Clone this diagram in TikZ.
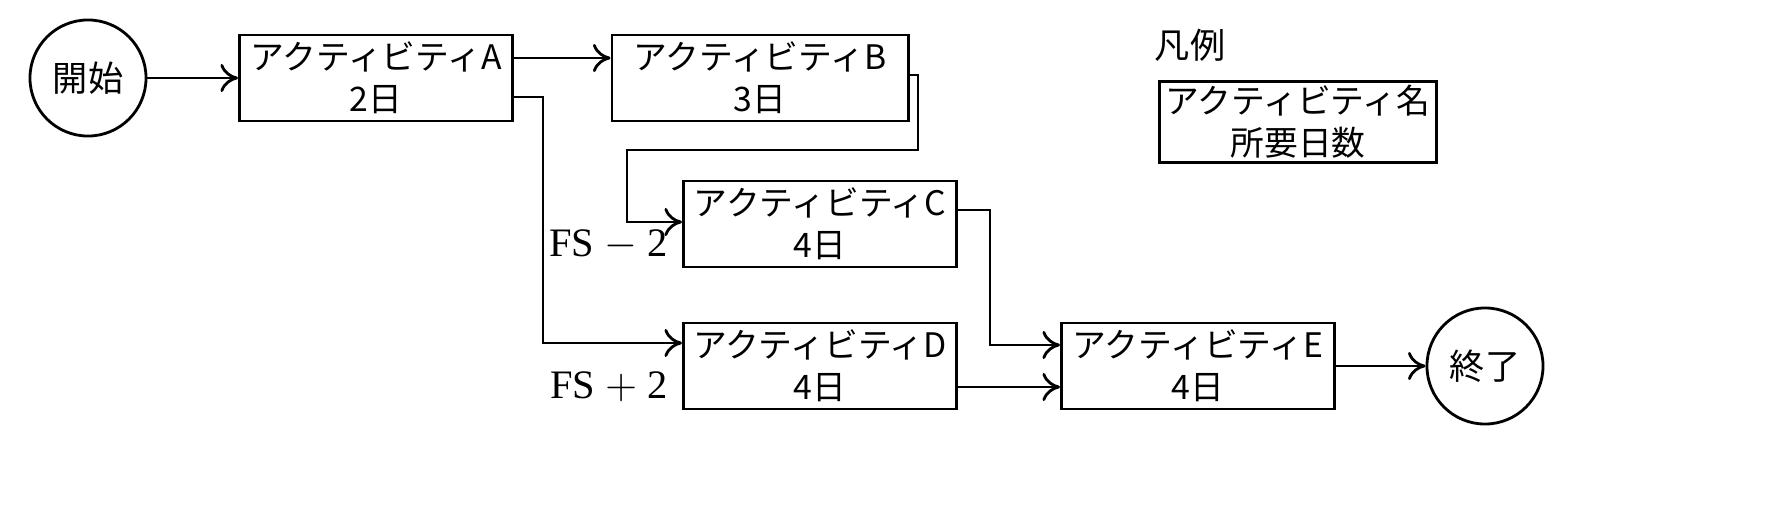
\documentclass[tikz,border=0pt]{standalone}
\usepackage{fontspec}
\setmainfont{Liberation Serif}
\newfontfamily\jp{Noto Sans CJK JP}
\usepackage{tikz}
\usetikzlibrary{positioning,arrows.meta}
\begin{document}
\begin{tikzpicture}[x=0.01cm,y=-0.01cm,
  act/.style={draw,thick,minimum width=2.73cm,minimum height=0.86cm,inner sep=0pt,align=center,font=\jp\fontsize{9.6}{12}\selectfont},
  ev/.style={draw,thick,circle,minimum size=1.16cm,inner sep=0pt,font=\jp\fontsize{10}{12}\selectfont},
  link/.style={thick,-{To[length=5pt,width=8pt]}}]
\useasboundingbox (0,0) rectangle (1772,512);
\node[ev] (Start) at (88,78) {開始};
\node[act] (ActA) at (376,78) {アクティビティA\\2日};
\node[act,minimum width=2.96cm] (ActB) at (760,78) {アクティビティB\\3日};
\node[act] (ActC) at (820,224) {アクティビティC\\4日};
\node[act] (ActD) at (820,366) {アクティビティD\\4日};
\node[act] (ActE) at (1198,366) {アクティビティE\\4日};
\node[ev] (End) at (1485,366) {終了};
\node[font=\jp\fontsize{10}{12}\selectfont] (LegT) at (1190,45) {凡例};
\node[act,minimum width=2.77cm,minimum height=0.81cm] (Leg) at (1298,122) {アクティビティ名\\所要日数};
\node[font=\fontsize{11.5}{14}\selectfont,anchor=east] (LblC) at (680,245) {FS $-$ 2};
\node[font=\fontsize{11.5}{14}\selectfont,anchor=east] (LblD) at (680,387) {FS $+$ 2};
% connectors
\draw[link] (Start) -- (ActA);
\draw[link] (ActA.east |- 0,58) -- (ActB.west |- 0,58);
\draw[link] (ActA.east |- 0,97) -| (543,343) -- (ActD.west |- 0,343);
\draw[link] (ActB.east |- 0,75) -| (918,150) -| (627,222) -- (ActC.west |- 0,222);
\draw[link] (ActC.east |- 0,210) -| (990,345) -- (ActE.west |- 0,345);
\draw[link] (ActD.east |- 0,387) -- (ActE.west |- 0,387);
\draw[link] (ActE) -- (End);
\end{tikzpicture}
\end{document}
